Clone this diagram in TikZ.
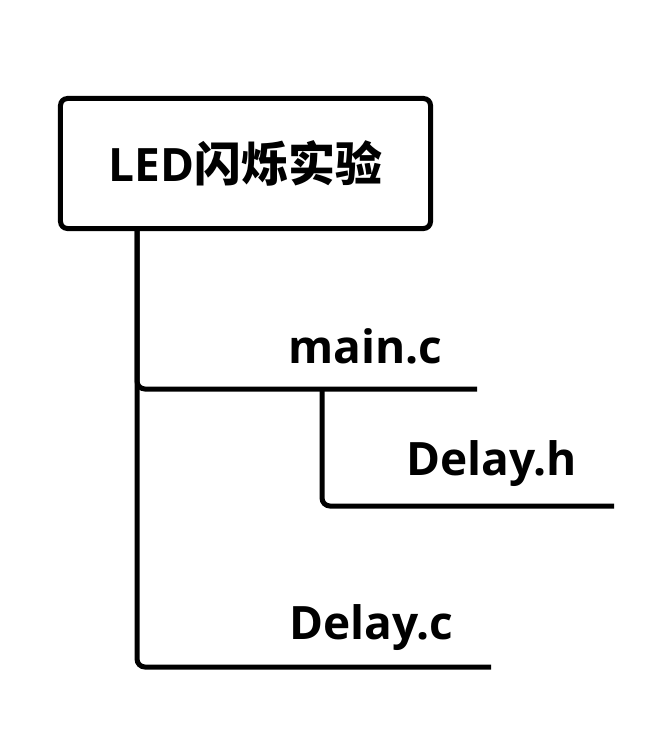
\documentclass[tikz,border=0pt]{standalone}
\usepackage{fontspec}
\setmainfont{Open Sans}
\newfontfamily\cjkbold{Noto Sans CJK SC Bold}
\begin{document}
\begin{tikzpicture}[x=1bp,y=-1bp,
  tree/.style={line width=5bp,rounded corners=8bp},
  titlebox/.style={draw,line width=5bp,rounded corners=7bp,minimum width=370bp,minimum height=130bp,inner sep=0pt},
  fname/.style={anchor=base west,inner sep=0pt,font=\fontsize{46bp}{50bp}\selectfont\bfseries}]
\useasboundingbox (0,0) rectangle (652,738);
\node[titlebox] (root) at (245.5,163.5) {\fontsize{46bp}{50bp}\selectfont\bfseries LED\fontsize{47bp}{50bp}\cjkbold 闪烁实验};
\node[fname] (mainc) at (288,363) {main.c};
\node[fname] (delayh) at (406,475) {Delay.h};
\node[fname] (delayc) at (289,639) {Delay.c};
\coordinate (j1) at (137,389);
\coordinate (e1) at (477,389);
\coordinate (j2) at (322,389);
\coordinate (e2) at (614,506);
\coordinate (e3) at (491,667);
\draw[tree] (root.south -| j1) |- (e1);
\draw[tree] (root.south -| j1) |- (e3);
\draw[tree] (j2) |- (e2);
\end{tikzpicture}
\end{document}
